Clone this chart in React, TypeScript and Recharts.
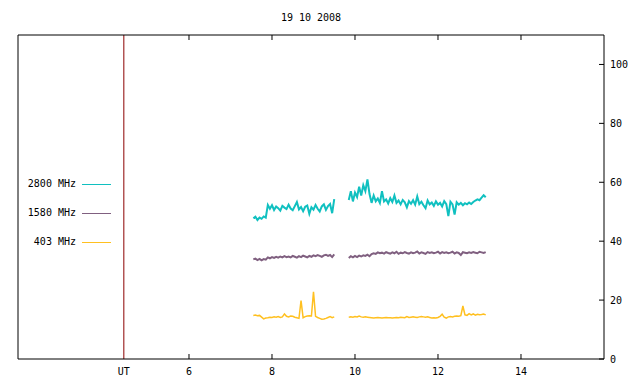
import React from "react";
import { LineChart, Line, XAxis, YAxis, ReferenceLine } from "recharts";

// Time (UT hours)
const times: number[] = [
  7.55, 7.6, 7.65, 7.7, 7.75, 7.8, 7.85,
  7.9, 7.95, 8.0, 8.05, 8.1, 8.15, 8.2, 8.25, 8.3, 8.35, 8.4, 8.45, 8.5, 8.55, 8.6, 8.65, 8.7, 8.75, 8.8, 8.85, 8.9, 8.95, 9.0, 9.05, 9.1, 9.15, 9.2, 9.25, 9.3, 9.35, 9.4, 9.45, 9.5,
  9.7,
  9.85, 9.9, 9.95, 10.0, 10.05, 10.1, 10.15, 10.2, 10.25, 10.3,
  10.35, 10.4, 10.45, 10.5, 10.55, 10.6, 10.65, 10.7, 10.75, 10.8,
  10.85, 10.9, 10.95, 11.0, 11.05, 11.1, 11.15, 11.2, 11.25, 11.3,
  11.35, 11.4, 11.45, 11.5, 11.55, 11.6, 11.65, 11.7, 11.75, 11.8,
  11.85, 11.9, 11.95, 12.0, 12.05, 12.1, 12.15, 12.2, 12.25, 12.3,
  12.35, 12.4, 12.45, 12.5, 12.55, 12.6, 12.65, 12.7, 12.75, 12.8,
  12.85, 12.9, 12.95, 13.0, 13.05, 13.1, 13.15,
];

const f2800: (number | null)[] = [
  47.8, 48.3, 47.2, 48.0, 47.6, 48.4, 48.0,
  52.3, 51.0, 52.2, 50.6, 51.8, 51.2, 50.4, 52.0, 51.4, 50.9, 52.4, 51.1, 50.5, 51.9, 53.3, 50.8, 51.6, 50.2, 51.7, 52.1, 49.3, 51.5, 50.7, 52.3, 51.0, 50.1, 51.8, 52.5, 50.6, 51.9, 52.6, 49.5, 54.3,
  null,
  54.0, 57.0, 53.5, 56.5, 55.0, 58.5, 55.5, 59.0, 57.0, 61.0,
  56.0, 53.0, 55.5, 53.5, 54.5, 53.0, 57.0, 53.5, 54.2, 52.8,
  54.6, 53.3, 55.5, 53.0, 53.8, 52.5, 54.0, 53.2, 51.5, 53.6,
  52.7, 53.9, 52.4, 55.2, 52.6, 53.4, 52.2, 51.2, 53.8, 52.5,
  53.1, 52.0, 53.5, 52.4, 53.0, 51.8, 53.6, 52.6, 48.5, 53.4,
  52.5, 49.0, 53.2, 52.4, 53.0, 52.2, 52.9, 52.5, 53.1, 52.6,
  53.3, 53.8, 54.2, 53.9, 54.8, 55.6, 54.9,
];

const f1580: (number | null)[] = [
  33.8, 34.1, 33.6, 34.0, 33.5, 33.9, 33.7,
  34.5, 34.2, 34.6, 34.3, 34.7, 34.4, 34.8, 34.5, 34.9, 34.6, 34.8, 34.5, 35.0, 34.7, 34.4, 34.9, 34.6, 35.1, 34.8, 34.5, 35.0, 34.7, 35.2, 34.9, 35.3, 35.0, 34.7, 35.2, 35.4, 35.0, 35.3, 34.6, 35.5,
  null,
  34.3, 34.9, 34.5, 35.0, 34.6, 35.1, 34.8, 35.2, 35.0, 35.4,
  34.9, 35.6, 35.9, 35.7, 36.2, 35.9, 36.1, 35.8, 36.3, 36.0,
  35.8, 36.2, 35.9, 36.4, 35.7, 36.1, 35.9, 36.3, 36.0, 35.8,
  36.2, 35.9, 36.1, 36.5, 35.8, 36.2, 36.0, 35.7, 36.3, 36.0,
  36.2, 35.9, 36.1, 36.4, 35.8, 36.3, 36.0, 36.2, 35.9, 36.1,
  36.4, 35.8, 36.2, 36.0, 35.3, 36.3, 36.1, 35.9, 36.2, 36.0,
  36.3, 36.1, 35.9, 36.4, 36.2, 36.0, 36.3,
];

const f403: (number | null)[] = [
  14.8, 14.9, 14.7, 14.8, 14.2, 13.6, 13.9,
  14.0, 14.2, 14.1, 14.3, 14.2, 14.4, 14.1, 14.3, 15.3, 14.5, 14.3, 14.6, 14.5, 14.2, 14.0, 13.8, 19.8, 14.0, 14.4, 14.6, 14.7, 14.6, 22.8, 14.5, 14.1, 13.8, 13.5, 13.6, 13.8, 14.1, 14.4, 14.0, 14.3,
  null,
  14.2, 14.3, 14.2, 14.4, 14.3, 14.6, 14.3, 14.2, 14.3, 14.2,
  14.1, 14.0, 13.9, 14.0, 14.1, 14.0, 13.9, 14.0, 14.1, 14.0,
  14.0, 13.9, 14.0, 14.1, 14.0, 14.2, 14.1, 14.0, 14.4, 14.1,
  14.2, 14.3, 14.2, 14.1, 14.3, 14.4, 14.3, 14.2, 14.3, 14.1,
  13.9, 14.0, 13.9, 14.1, 14.5, 15.2, 14.2, 13.9, 14.3, 14.4,
  14.3, 14.5, 14.6, 14.5, 14.7, 18.0, 15.0, 14.8, 15.4, 15.0,
  15.3, 14.9, 15.2, 15.0, 15.1, 15.3, 15.0,
];

const seriesNames = ["2800 MHz", "1580 MHz", "403 MHz"];
const seriesKeys = ["f2800", "f1580", "f403"];
const seriesColors = ["#10c0c0", "#806080", "#ffc020"];
const seriesWidths = [2, 2, 1.5];

const xDomain: [number, number] = [1.88, 16];
const utMark = 4.43;
const xTicks = [utMark, 6, 8, 10, 12, 14];
const xTickLabels = ["UT", "6", "8", "10", "12", "14"];
const yTicks = [0, 20, 40, 60, 80, 100];
const title = "19 10 2008";

const data = times.map((t, i) => ({
  t,
  f2800: f2800[i],
  f1580: f1580[i],
  f403: f403[i],
}));

const FONT = "'DejaVu Sans Mono', monospace";

const BottomTick = (p: any) => {
  const v = p.payload.value;
  const idx = xTicks.findIndex((x) => Math.abs(x - v) < 1e-6);
  const isUT = idx === 0;
  return (
    <g>
      {!isUT && <line x1={p.x} x2={p.x} y1={p.y} y2={p.y - 5} stroke="#000" />}
      <text x={p.x} y={p.y + 16} textAnchor="middle" fontFamily={FONT} fontSize={10} fill="#000">
        {idx >= 0 ? xTickLabels[idx] : v}
      </text>
    </g>
  );
};

const TopTick = (p: any) => (
  <line x1={p.x} x2={p.x} y1={p.y} y2={p.y + 5} stroke="#000" />
);

const RightTick = (p: any) => (
  <g>
    <line x1={p.x - 5} x2={p.x} y1={p.y} y2={p.y} stroke="#000" />
    <text x={p.x + 6} y={p.y + 4} textAnchor="start" fontFamily={FONT} fontSize={10} fill="#000">
      {p.payload.value}
    </text>
  </g>
);

const legendY = [184, 213, 242];

export default function App() {
  return (
    <div style={{ position: "absolute", left: 0, top: 0, width: 640, height: 384, background: "#fff" }}>
      <LineChart width={640} height={384} data={data} margin={{ top: 34, right: 0, left: 17, bottom: 0 }}>
        <XAxis
          xAxisId="b"
          dataKey="t"
          type="number"
          domain={xDomain}
          allowDataOverflow
          ticks={xTicks}
          interval={0}
          height={25}
          tickLine={false}
          tickSize={0}
          tickMargin={0}
          axisLine={{ stroke: "#000" }}
          tick={BottomTick}
        />
        <XAxis
          xAxisId="t"
          orientation="top"
          dataKey="t"
          type="number"
          domain={xDomain}
          allowDataOverflow
          ticks={xTicks.slice(1)}
          interval={0}
          height={1}
          tickLine={false}
          tickSize={0}
          tickMargin={0}
          axisLine={{ stroke: "#000" }}
          tick={TopTick}
        />
        <YAxis
          yAxisId="r"
          orientation="right"
          domain={[0, 110]}
          allowDataOverflow
          ticks={yTicks}
          interval={0}
          width={36}
          tickLine={false}
          tickSize={0}
          tickMargin={0}
          axisLine={{ stroke: "#000" }}
          tick={RightTick}
        />
        <YAxis
          yAxisId="l"
          orientation="left"
          domain={[0, 110]}
          width={1}
          tick={false}
          tickLine={false}
          axisLine={{ stroke: "#000" }}
        />
        <ReferenceLine xAxisId="b" yAxisId="r" x={utMark} stroke="#8b0000" strokeWidth={1} />
        {seriesKeys.map((k, i) => (
          <Line
            key={k}
            xAxisId="b"
            yAxisId="r"
            dataKey={k}
            stroke={seriesColors[i]}
            strokeWidth={seriesWidths[i]}
            dot={false}
            activeDot={false}
            connectNulls={false}
            isAnimationActive={false}
            type="linear"
          />
        ))}
      </LineChart>
      <div
        style={{
          position: "absolute",
          left: 211,
          width: 200,
          top: 12,
          textAlign: "center",
          fontFamily: FONT,
          fontSize: 10,
          lineHeight: "12px",
          color: "#000",
          whiteSpace: "pre",
        }}
      >
        {title}
      </div>
      {seriesNames.map((n, i) => (
        <React.Fragment key={n}>
          <div
            style={{
              position: "absolute",
              right: 640 - 76,
              top: legendY[i] - 6,
              fontFamily: FONT,
              fontSize: 10,
              lineHeight: "12px",
              color: "#000",
              whiteSpace: "pre",
            }}
          >
            {n}
          </div>
          <div
            style={{
              position: "absolute",
              left: 82,
              width: 29,
              top: legendY[i],
              height: 0,
              borderTop: `1px solid ${seriesColors[i]}`,
            }}
          />
        </React.Fragment>
      ))}
    </div>
  );
}
